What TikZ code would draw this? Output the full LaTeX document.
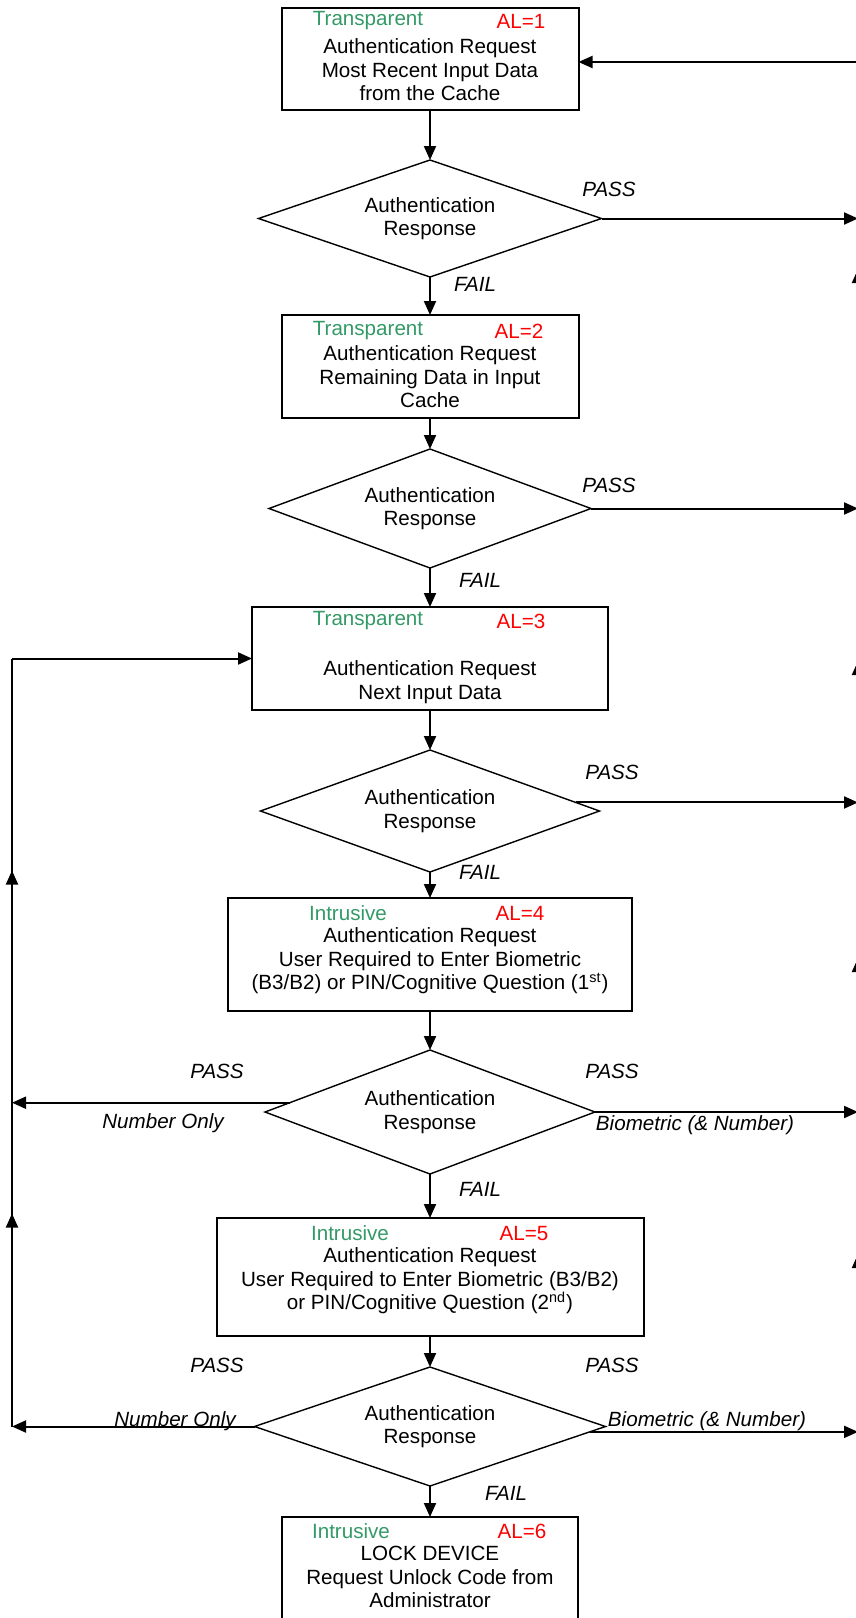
\documentclass[tikz,border=0pt]{standalone}
\usepackage{fontspec}
\setmainfont{Liberation Sans}
\usetikzlibrary{arrows.meta,shapes.geometric,decorations.markings,calc}
\definecolor{modegreen}{RGB}{51,153,102}
\definecolor{levelred}{RGB}{255,0,0}

\begin{document}
\begin{tikzpicture}[x=0.5pt,y=-0.5pt,
  tip/.tip={Triangle[length=7pt,width=6pt]},
  stepbox/.style={draw, line width=1pt, rectangle, inner sep=0pt, outer sep=0pt},
  decision/.style={draw, line width=0.7pt, diamond, inner sep=0pt, outer sep=0pt},
  body/.style={align=center, inner sep=0pt, font=\fontsize{10.3}{11.7}\selectfont},
  modetag/.style={inner sep=0pt, text=modegreen, font=\fontsize{10.3}{11.7}\selectfont},
  leveltag/.style={inner sep=0pt, text=levelred, font=\fontsize{10.3}{11.7}\selectfont},
  lbl/.style={inner sep=0pt, font=\itshape\fontsize{10.3}{11.7}\selectfont},
  arr/.style={line width=1pt, -tip},
  wire/.style={line width=1pt},
]
\useasboundingbox (0,0) rectangle (856,1618);
\clip (0,0) rectangle (856,1618);

% ---- process boxes ----
\node[stepbox, minimum width=148.5pt, minimum height=51pt]   (b1) at (430,59)     {};
\node[stepbox, minimum width=148.5pt, minimum height=51.5pt] (b2) at (430,366.5)  {};
\node[stepbox, minimum width=178pt,   minimum height=51.5pt] (b3) at (430,658.5)  {};
\node[stepbox, minimum width=202pt,   minimum height=56.5pt] (b4) at (430,954.5)  {};
\node[stepbox, minimum width=213.5pt, minimum height=59pt]   (b5) at (430,1277)   {};
\node[stepbox, minimum width=148pt,   minimum height=61.5pt] (b6) at (430,1578.5) {};

% ---- box texts ----
\node[modetag]  (m1) at (368,21) {Transparent};
\node[leveltag] (l1) at (521,21) {AL=1};
\node[body] (t1) at (430,70) {Authentication Request\\Most Recent Input Data\\from the Cache};

\node[modetag]  (m2) at (368,331) {Transparent};
\node[leveltag] (l2) at (519,331) {AL=2};
\node[body] (t2) at (430,377) {Authentication Request\\Remaining Data in Input\\Cache};

\node[modetag]  (m3) at (368,621) {Transparent};
\node[leveltag] (l3) at (521,621) {AL=3};
\node[body] (t3) at (430,682) {Authentication Request\\Next Input Data};

\node[modetag]  (m4) at (348,913) {Intrusive};
\node[leveltag] (l4) at (520,913) {AL=4};
\node[body] (t4) at (430,961) {Authentication Request\\User Required to Enter Biometric\\(B3/B2) or PIN/Cognitive Question (1\textsuperscript{st})};

\node[modetag]  (m5) at (350,1233) {Intrusive};
\node[leveltag] (l5) at (524,1233) {AL=5};
\node[body] (t5) at (430,1281) {Authentication Request\\User Required to Enter Biometric (B3/B2)\\or PIN/Cognitive Question (2\textsuperscript{nd})};

\node[modetag]  (m6) at (351,1531) {Intrusive};
\node[leveltag] (l6) at (522,1531) {AL=6};
\node[body] (t6) at (430,1577) {LOCK DEVICE\\Request Unlock Code from\\Administrator};

% ---- decisions ----
\node[decision, minimum width=171.5pt, minimum height=58.5pt] (d1) at (430,218.5) {};
\node[decision, minimum width=161pt,   minimum height=59.5pt] (d2) at (430,508.5) {};
\node[decision, minimum width=169.5pt, minimum height=61pt]   (d3) at (430,811)   {};
\node[decision, minimum width=165pt,   minimum height=62pt]   (d4) at (430,1112)  {};
\node[decision, minimum width=175.5pt, minimum height=59.5pt] (d5) at (430,1426.5){};
\foreach \d in {d1,d2,d3,d4,d5}
  \node[body] (\d t) at (\d) {Authentication\\Response};

% ---- main flow ----
\draw[arr] (b1.south) -- (d1.north);
\draw[arr] (d1.south) -- (b2.north);
\draw[arr] (b2.south) -- (d2.north);
\draw[arr] (d2.south) -- (b3.north);
\draw[arr] (b3.south) -- (d3.north);
\draw[arr] (d3.south) -- (b4.north);
\draw[arr] (b4.south) -- (d4.north);
\draw[arr] (d4.south) -- (b5.north);
\draw[arr] (b5.south) -- (d5.north);
\draw[arr] (d5.south) -- (b6.north);

% ---- FAIL labels ----
\node[lbl] (f1) at (475,284)  {FAIL};
\node[lbl] (f2) at (480,580)  {FAIL};
\node[lbl] (f3) at (480,872)  {FAIL};
\node[lbl] (f4) at (480,1189) {FAIL};
\node[lbl] (f5) at (506,1493) {FAIL};

% ---- right-hand return line (runs just beyond the page edge) ----
\coordinate (R0) at (858,62);
\draw[wire, postaction={decorate}, decoration={markings,
      mark=at position 90pt with {\arrow{tip}},
      mark=at position 238pt with {\arrow{tip}},
      mark=at position 386.5pt with {\arrow{tip}},
      mark=at position 582.5pt with {\arrow{tip}}}] (858,1434) -- (R0);
\draw[arr] (R0) -- (R0 -| b1.east);
\coordinate (e1) at (d1.east);
\coordinate (e2) at (d2.east);
\coordinate (e3) at ($(d3.east)!0.14!(d3.north)$);
\coordinate (e4) at (d4.east);
\coordinate (e5) at ($(d5.east)!0.09!(d5.south)$);
\foreach \e in {e1,e2,e3,e4,e5}
  \draw[arr] (\e) -- (\e -| R0);

\node[lbl] (p1) at (609,189)  {PASS};
\node[lbl] (p2) at (609,485)  {PASS};
\node[lbl] (p3) at (612,772)  {PASS};
\node[lbl] (p4) at (612,1071) {PASS};
\node[lbl] (p5) at (612,1365) {PASS};
\node[lbl] (n4) at (695,1125) {Biometric (\& Number)};
\node[lbl] (n5) at (707,1421) {Biometric (\& Number)};

% ---- left-hand return line ----
\coordinate (L3) at (12,658.5);
\coordinate (L5) at (12,1426.5);
\coordinate (w4) at ($(d4.west)!0.15!(d4.north)$);
\draw[arr] (w4) -- (w4 -| L5);
\draw[arr] (d5.west) -- (L5);
\draw[wire, postaction={decorate}, decoration={markings,
      mark=at position 106.5pt with {\arrow{tip}},
      mark=at position 278pt with {\arrow{tip}}}] (L5) -- (L3);
\draw[arr] (L3) -- (b3.west);

\node[lbl] (q4) at (217,1071) {PASS};
\node[lbl] (q5) at (217,1365) {PASS};
\node[lbl] (o4) at (163,1123) {Number Only};
\node[lbl] (o5) at (175,1421) {Number Only};
\end{tikzpicture}
\end{document}
